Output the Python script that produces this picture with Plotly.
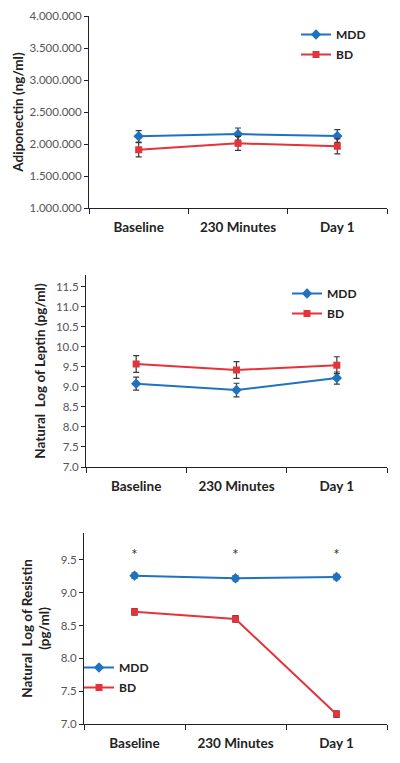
import plotly.graph_objects as go

categories = ["Baseline", "230 Minutes", "Day 1"]

# Panel 1: Adiponectin (ng/ml)
adipo_mdd = [2120000, 2155000, 2125000]
adipo_mdd_err = [90000, 95000, 100000]
adipo_bd = [1910000, 2010000, 1965000]
adipo_bd_err = [110000, 110000, 120000]

# Panel 2: Natural log of leptin (pg/ml)
leptin_mdd = [9.08, 8.92, 9.22]
leptin_mdd_err = [0.16, 0.17, 0.15]
leptin_bd = [9.57, 9.42, 9.54]
leptin_bd_err = [0.21, 0.21, 0.21]

# Panel 3: Natural log of resistin (pg/ml)
resistin_mdd = [9.26, 9.22, 9.24]
resistin_mdd_err = [0.04, 0.04, 0.04]
resistin_bd = [8.71, 8.60, 7.15]
resistin_bd_err = [0.05, 0.05, 0.05]
sig_marks = ["*", "*", "*"]
sig_y = [9.55, 9.55, 9.55]

BLUE = "#1f72c0"
RED = "#e2343a"
ERR = "#3a3a3a"
FONT = "Lato"

fig = go.Figure()

panels = [
    (adipo_mdd, adipo_mdd_err, adipo_bd, adipo_bd_err, "x", "y", "legend"),
    (leptin_mdd, leptin_mdd_err, leptin_bd, leptin_bd_err, "x2", "y2", "legend2"),
    (resistin_mdd, resistin_mdd_err, resistin_bd, resistin_bd_err, "x3", "y3", "legend3"),
]

for mdd, mdd_e, bd, bd_e, xa, ya, lg in panels:
    fig.add_trace(go.Scatter(
        x=categories, y=mdd, name="MDD", mode="lines+markers",
        line=dict(color=BLUE, width=2), marker=dict(symbol="diamond", size=8, color=BLUE),
        error_y=dict(type="data", array=mdd_e, color=ERR, thickness=1.2, width=3),
        xaxis=xa, yaxis=ya, legend=lg, legendgroup=lg + "a"))
    fig.add_trace(go.Scatter(
        x=categories, y=bd, name="BD", mode="lines+markers",
        line=dict(color=RED, width=2), marker=dict(symbol="square", size=7, color=RED),
        error_y=dict(type="data", array=bd_e, color=ERR, thickness=1.2, width=3),
        xaxis=xa, yaxis=ya, legend=lg, legendgroup=lg + "b"))

fig.add_trace(go.Scatter(
    x=categories, y=sig_y, mode="text", text=sig_marks,
    textfont=dict(family=FONT, size=15, color="#333"),
    xaxis="x3", yaxis="y3", showlegend=False, hoverinfo="skip"))

H = 763.0
W = 400.0

def xd(a, b):
    return [a / W, b / W]

def yd(top, bottom):
    return [1 - bottom / H, 1 - top / H]

xcommon = dict(
    type="category", tickson="boundaries", ticks="outside", ticklen=5,
    tickcolor="#222", showline=True, linecolor="#222", linewidth=1,
    showgrid=False, zeroline=False, range=[-0.5, 2.5], automargin=False,
    tickfont=dict(family=FONT, size=13.5, color="#222", weight="bold"),
    ticklabelstandoff=7, fixedrange=True,
)
ycommon = dict(
    ticks="outside", ticklen=4, tickcolor="#222", showline=True, linecolor="#222",
    linewidth=1, showgrid=False, zeroline=False, automargin=False,
    tickfont=dict(family=FONT, size=11.5, color="#555"),
    fixedrange=True,
)

legfont = dict(family=FONT, size=12, color="#222", weight="bold")

fig.update_layout(
    width=400, height=763,
    margin=dict(l=0, r=0, t=0, b=0, autoexpand=False),
    paper_bgcolor="white", plot_bgcolor="white",
    separators="..",
    font=dict(family=FONT, color="#222"),
    xaxis=dict(xcommon, domain=xd(89, 387), anchor="y"),
    yaxis=dict(ycommon, domain=yd(16, 208), anchor="x", range=[1000000, 4000000],
               dtick=500000, tickformat=",d",
               title=dict(text="<b>Adiponectin (ng/ml)</b>", font=dict(family=FONT, size=13.5, color="#222"), standoff=2)),
    xaxis2=dict(xcommon, domain=xd(86, 387), anchor="y2"),
    yaxis2=dict(ycommon, domain=yd(275, 467), anchor="x2", range=[7.0, 11.79],
                dtick=0.5, tickformat=".1f",
                title=dict(text="<b>Natural  Log of Leptin (pg/ml)</b>", font=dict(family=FONT, size=13.5, color="#222"), standoff=7)),
    xaxis3=dict(xcommon, domain=xd(84, 387), anchor="y3"),
    yaxis3=dict(ycommon, domain=yd(533, 724), anchor="x3", range=[7.0, 9.91],
                dtick=0.5, tickformat=".1f",
                title=dict(text="<b>Natural  Log of Resistin<br>(pg/ml)</b>", font=dict(family=FONT, size=13.5, color="#222"), standoff=7)),
    legend=dict(x=296 / W, y=1 - 20 / H, xanchor="left", yanchor="top", font=legfont,
                traceorder="grouped", tracegroupgap=1, bgcolor="rgba(0,0,0,0)", itemwidth=30),
    legend2=dict(x=287 / W, y=1 - 279 / H, xanchor="left", yanchor="top", font=legfont,
                 traceorder="grouped", tracegroupgap=1, bgcolor="rgba(0,0,0,0)", itemwidth=30),
    legend3=dict(x=79 / W, y=1 - 653 / H, xanchor="left", yanchor="top", font=legfont,
                 traceorder="grouped", tracegroupgap=1, bgcolor="rgba(0,0,0,0)", itemwidth=30),
)

fig.write_html("out.html", config={"displayModeBar": False},
               post_script="document.body.style.margin='0';document.body.style.padding='0';")
